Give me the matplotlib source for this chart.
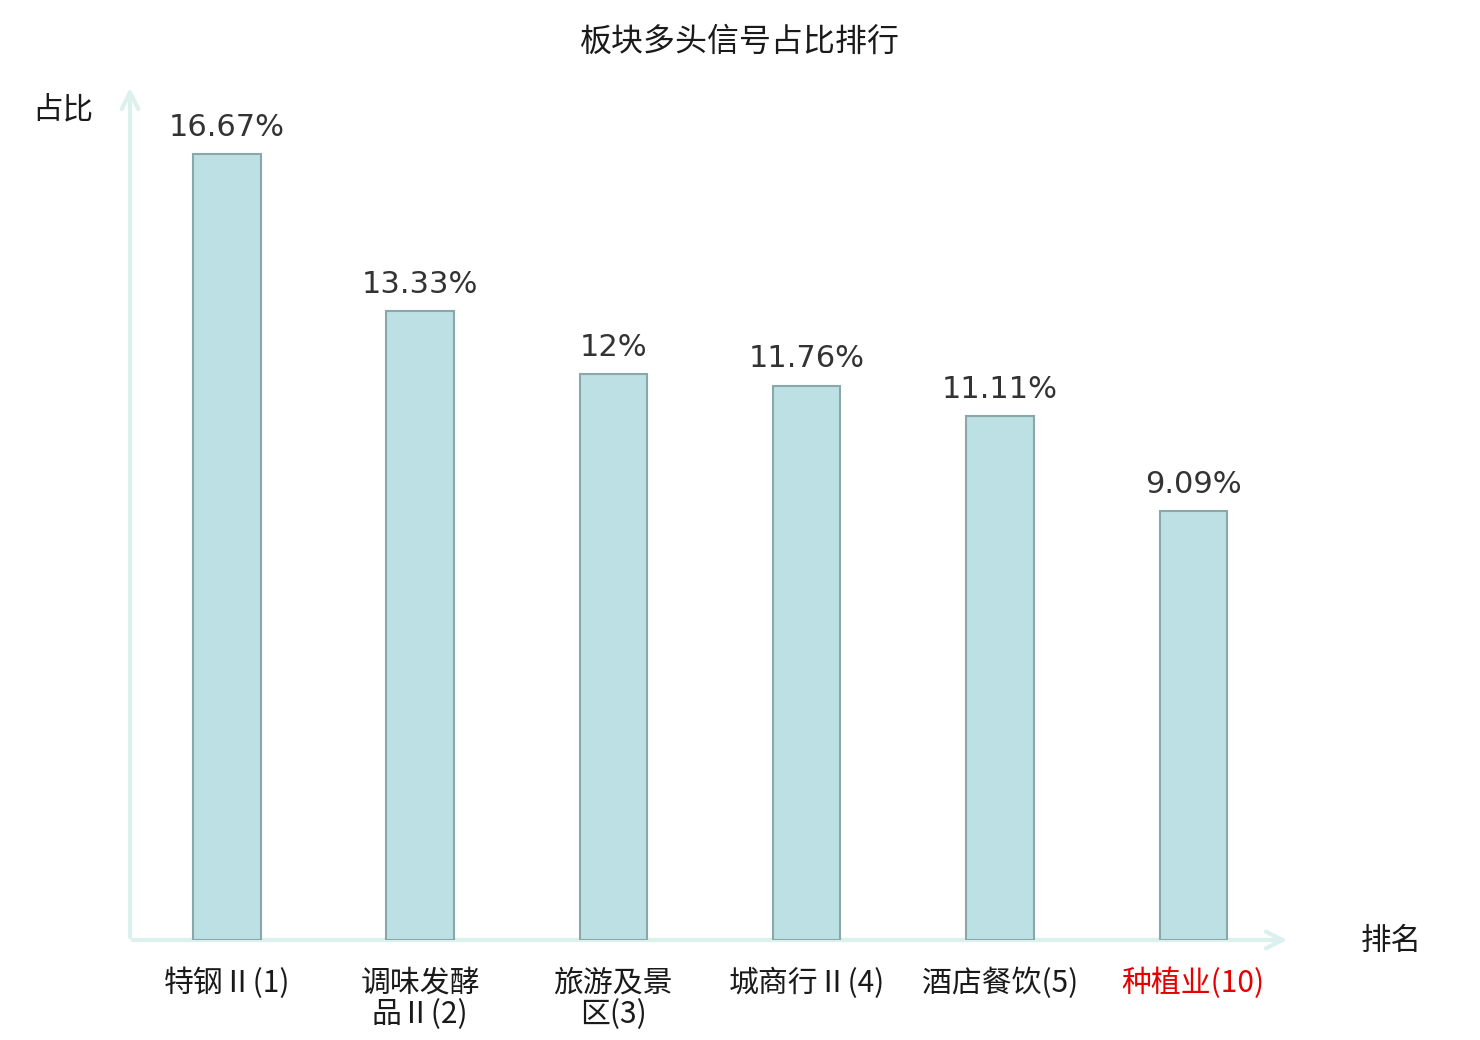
import matplotlib
matplotlib.use("Agg")
import matplotlib.pyplot as plt

plt.rcParams['font.family'] = ['Noto Sans CJK SC', 'DejaVu Sans']

# data
categories = ['特钢Ⅱ(1)', '调味发酵\n品Ⅱ(2)', '旅游及景\n区(3)', '城商行Ⅱ(4)', '酒店餐饮(5)', '种植业(10)']
values = [16.67, 13.33, 12, 11.76, 11.11, 9.09]
value_labels = ['16.67%', '13.33%', '12%', '11.76%', '11.11%', '9.09%']
label_colors = ['#1a1a1a', '#1a1a1a', '#1a1a1a', '#1a1a1a', '#1a1a1a', '#e60000']

fig = plt.figure(figsize=(14.8, 10.4), dpi=100)
ax = fig.add_axes([130 / 1480, 100 / 1040, 1160 / 1480, 855 / 1040])

x = list(range(len(categories)))
bars = ax.bar(x, values, width=0.35, color='#bce0e3', edgecolor='#8aa8a8', linewidth=1.5, zorder=2)

for b, lab in zip(bars, value_labels):
    ax.annotate(lab, (b.get_x() + b.get_width() / 2, b.get_height()),
                xytext=(0, 9), textcoords='offset points', ha='center', va='bottom',
                fontsize=22, color='#333333', family='DejaVu Sans')

ax.set_xlim(-0.5, 5.5)
ax.set_ylim(0, 855 / 47.15)
for s in ax.spines.values():
    s.set_visible(False)
ax.set_yticks([])
ax.set_xticks(x)
ax.set_xticklabels(categories, fontsize=21.5, linespacing=1.03)
for t, c in zip(ax.get_xticklabels(), label_colors):
    t.set_color(c)
ax.tick_params(axis='x', length=0, pad=20)

# axis arrows
arrow = dict(arrowstyle='->', color='#dcf0ee', lw=3, mutation_scale=30)
ax.annotate('', xy=(0, 1.0), xytext=(0, 0), xycoords='axes fraction', arrowprops=arrow, zorder=1)
ax.annotate('', xy=(1.0, 0), xytext=(0, 0), xycoords='axes fraction', arrowprops=arrow, zorder=1)

fig.text(63 / 1480, 1 - 110 / 1040, '占比', fontsize=22, ha='center', va='center', color='#1a1a1a')
fig.text(1391 / 1480, 1 - 941 / 1040, '排名', fontsize=22, ha='center', va='center', color='#1a1a1a')
fig.text(0.5, 1 - 42 / 1040, '板块多头信号占比排行', fontsize=23, ha='center', va='center', color='#1a1a1a')

fig.savefig('out.png', dpi=100)
